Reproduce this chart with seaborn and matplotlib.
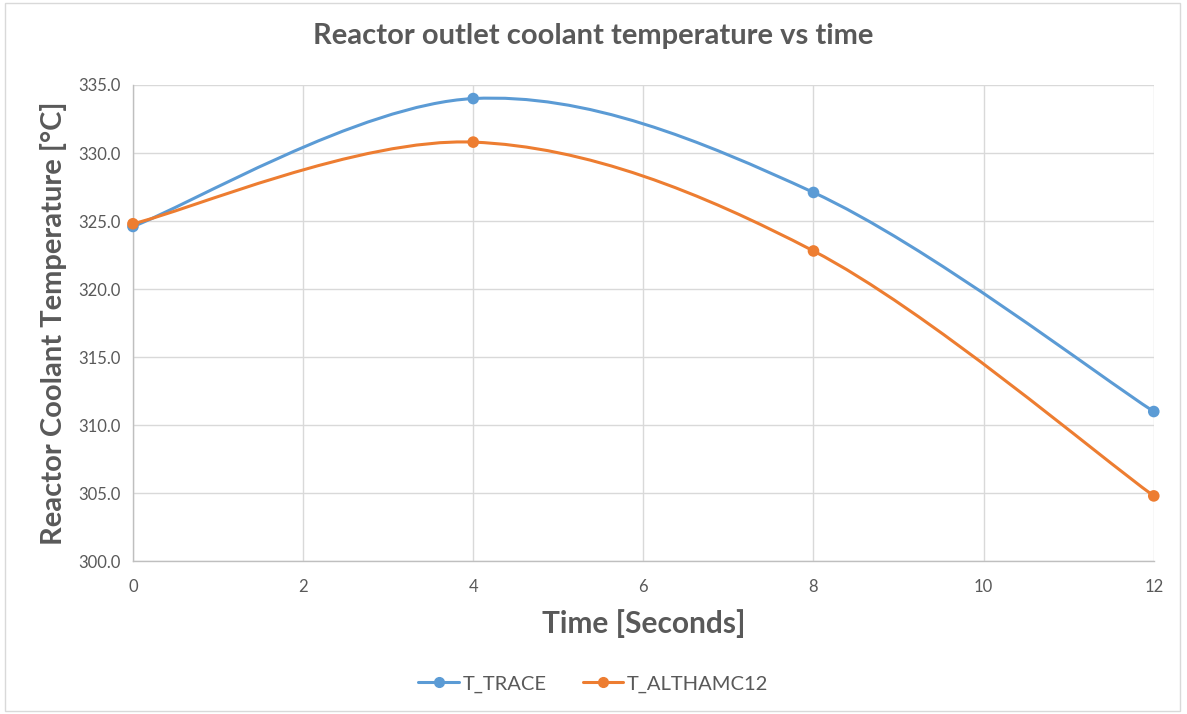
import numpy as np
import pandas as pd
import matplotlib.pyplot as plt
import seaborn as sns
from matplotlib.path import Path
from matplotlib.patches import PathPatch, Rectangle
from matplotlib.lines import Line2D
from matplotlib.ticker import FormatStrFormatter

time_s = [0, 4, 8, 12]
t_trace = [324.6, 334.0, 327.1, 311.0]
t_altham = [324.8, 330.8, 322.8, 304.8]
series_names = ['T_TRACE', 'T_ALTHAMC12']
colors = ['#5B9BD5', '#ED7D31']


def smooth_path(x, y):
    # Excel style smoothed line: cubic bezier through every point
    pts = np.column_stack([x, y]).astype(float)
    n = len(pts)
    verts = [pts[0]]
    codes = [Path.MOVETO]
    for i in range(n - 1):
        p0 = pts[i - 1] if i > 0 else pts[i]
        p1 = pts[i]
        p2 = pts[i + 1]
        p3 = pts[i + 2] if i + 2 < n else pts[i + 1]
        c1 = p1 + (p2 - p0) / 6
        c2 = p2 - (p3 - p1) / 6
        verts += [c1, c2, p2]
        codes += [Path.CURVE4] * 3
    return Path(verts, codes)


df = pd.DataFrame({'time': time_s * 2,
                   'temp': t_trace + t_altham,
                   'serie': [series_names[0]] * 4 + [series_names[1]] * 4})

sns.set_style('white')
plt.rcParams['font.family'] = ['Lato', 'DejaVu Sans']
grey = '#595959'

fig = plt.figure(figsize=(11.87, 7.14), dpi=100)
ax = fig.add_axes([0.112, 0.214, 0.860, 0.667])

for nome, c in zip(series_names, colors):
    d = df[df['serie'] == nome]
    ax.add_patch(PathPatch(smooth_path(d['time'], d['temp']), fill=False,
                           edgecolor=c, lw=2.2, zorder=3, capstyle='round'))
sns.scatterplot(data=df, x='time', y='temp', hue='serie', palette=colors,
                s=70, edgecolor='none', ax=ax, legend=False, zorder=4, clip_on=False)

ax.set_xlim(0, 12)
ax.set_ylim(300, 335)
ax.set_xticks(range(0, 13, 2))
ax.set_yticks(np.arange(300, 336, 5))
ax.yaxis.set_major_formatter(FormatStrFormatter('%.1f'))
ax.grid(True, color='#D9D9D9', lw=1)
ax.set_axisbelow(True)
for s in ['top', 'right']:
    ax.spines[s].set_visible(False)
for s in ['left', 'bottom']:
    ax.spines[s].set_color('#BFBFBF')
    ax.spines[s].set_linewidth(1)
ax.tick_params(length=0, labelsize=12, labelcolor=grey)
ax.tick_params(axis='x', pad=13)
ax.tick_params(axis='y', pad=9)

ax.set_xlabel('Time [Seconds]', fontsize=21.5, fontweight='bold', color=grey, labelpad=10)
ax.set_ylabel('Reactor Coolant Temperature [°C]', fontsize=21, fontweight='bold', color=grey, labelpad=8)
fig.suptitle('Reactor outlet coolant temperature vs time', x=0.5, y=0.968,
             fontsize=21, fontweight='bold', color=grey)

handles = [Line2D([], [], color=c, lw=2.2, marker='o', markersize=7) for c in colors]
fig.legend(handles, series_names, loc='center', bbox_to_anchor=(0.5, 0.042), ncol=2,
           frameon=False, fontsize=14.5, labelcolor=grey, handlelength=2.0,
           columnspacing=1.8, handletextpad=0.2)

fig.patches.append(Rectangle((0.004, 0.004), 0.99, 0.992, transform=fig.transFigure,
                             fill=False, edgecolor='#D9D9D9', lw=1))

fig.savefig('out.png', dpi=100)
